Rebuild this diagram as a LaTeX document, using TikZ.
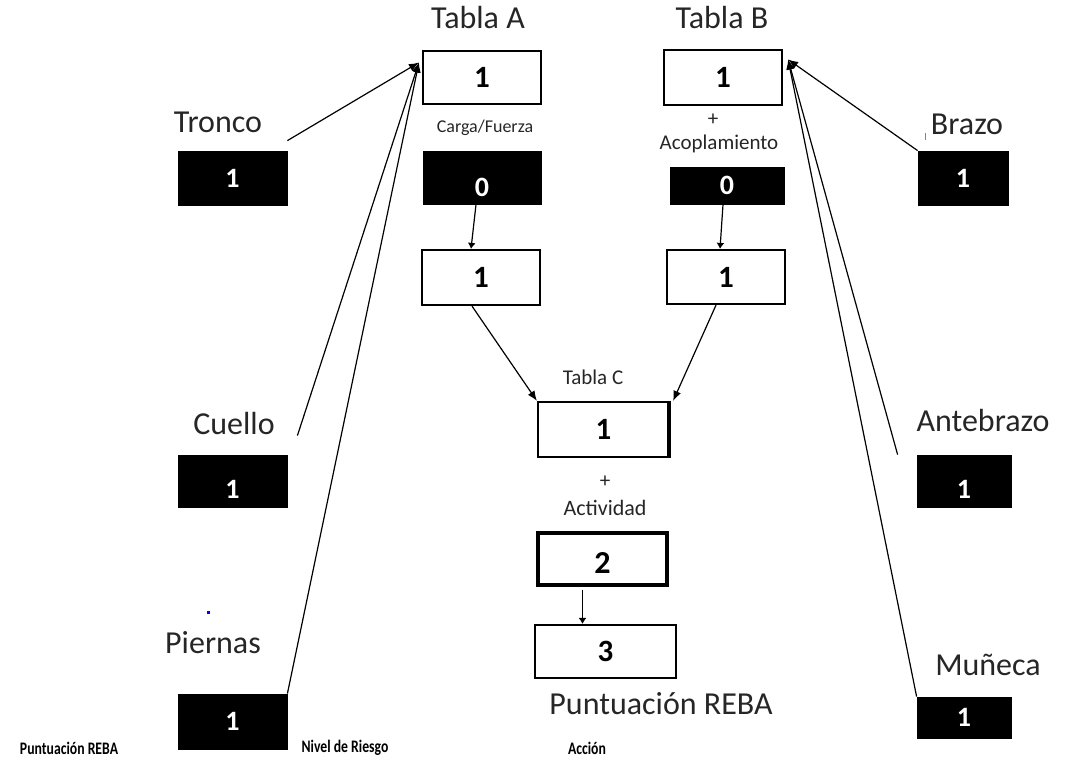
\documentclass[tikz,border=0pt]{standalone}
\usepackage{fontspec}
\setmainfont{Carlito}
\usetikzlibrary{arrows.meta,calc}
\newcommand{\lowered}[2]{\raisebox{-#1}[\height][\depth]{#2}}
\begin{document}
\begin{tikzpicture}[x=0.5pt,y=-0.5pt,
  wbox/.style={draw=black,line width=1.1pt,fill=white,inner sep=0pt,font=\bfseries\fontsize{15.5}{18}\selectfont},
  bbox/.style={draw=black,fill=black,inner sep=0pt,text=white,font=\bfseries\fontsize{14}{17}\selectfont},
  lbl/.style={inner sep=0pt,font=\fontsize{16}{19}\selectfont,text=black!85},
  slbl/.style={inner sep=0pt,font=\fontsize{9}{11}\selectfont,text=black!85},
  blbl/.style={inner sep=0pt,font=\bfseries\fontsize{8.8}{10}\selectfont},
  conn/.style={line width=0.6pt,-{Latex[length=5pt,width=4pt]}},
  sconn/.style={line width=0.6pt,-{Latex[length=3pt,width=4pt]}}]
\useasboundingbox (0,0) rectangle (1068,761);

% --- Tabla A branch ---
\node[lbl] (tAl) at (478,18) {Tabla A};
\node[wbox,minimum width=59pt,minimum height=26.5pt] (ta) at (482,77.5) {1};
\node[slbl] (cfl) at (485,128) {Carga/Fuerza};
\node[bbox,minimum width=59pt,minimum height=26.5pt] (cf) at (482,177.5) {\lowered{5pt}{0}};
\node[wbox,minimum width=59pt,minimum height=27.5pt] (ml) at (481,277.5) {1};

% --- Tabla B branch ---
\node[lbl] (tBl) at (722,18) {Tabla B};
\node[wbox,minimum width=59pt,minimum height=27.5pt] (tb) at (723,77.5) {1};
\node[slbl,font=\fontsize{10.5}{12}\selectfont] (plb) at (713,120) {+};
\node[slbl,font=\fontsize{10.5}{12}\selectfont] (acl) at (719,144) {Acoplamiento};
\node[bbox,minimum width=57pt,minimum height=18.5pt] (ac) at (727,185.5) {0};
\node[wbox,minimum width=59pt,minimum height=27pt] (mr) at (726,277) {1};

% --- Tabla C and final score ---
\node[slbl,font=\fontsize{10.5}{12}\selectfont] (tCl) at (593,377) {Tabla C};
\node[wbox,minimum width=65.5pt,minimum height=27.5pt] (tc) at (603.5,429.5) {1};
\draw[line width=2.2pt] ([xshift=-0.6pt]tc.north east) -- ([xshift=-0.6pt]tc.south east);
\node[slbl,font=\fontsize{10.5}{12}\selectfont] (plc) at (605,482) {+};
\node[slbl,font=\fontsize{11}{13}\selectfont] (acv) at (605,508) {Actividad};
\node[wbox,line width=1.6pt,minimum width=64.5pt,minimum height=26pt,font=\bfseries\fontsize{16}{19}\selectfont] (b2) at (602.5,559) {\lowered{2pt}{2}};
\node[wbox,minimum width=70.5pt,minimum height=26.5pt] (b3) at (605.5,651.5) {3};
\node[lbl] (prl) at (661,704) {Puntuación REBA};

% --- left body segments ---
\node[lbl] (trl) at (218,122) {Tronco};
\node[bbox,minimum width=54.5pt,minimum height=27pt] (tr) at (232.5,178) {1};
\node[lbl] (cul) at (234,423) {Cuello};
\node[bbox,minimum width=54.5pt,minimum height=26pt] (cu) at (232.5,481) {\lowered{4pt}{1}};
\node[lbl] (pil) at (213,643) {Piernas};
\node[bbox,minimum width=54.5pt,minimum height=27.5pt] (pi) at (232.5,721.5) {1};
\fill[blue] (206.5,610.5) rectangle (209.5,613.5);

% --- right body segments ---
\node[lbl] (brl) at (967,124) {Brazo};
\node[bbox,minimum width=45pt,minimum height=27pt] (br) at (963,178) {1};
\fill[violet!60] (924.5,133) rectangle (925.5,140);
\node[lbl] (abl) at (983,420) {Antebrazo};
\node[bbox,minimum width=47pt,minimum height=26pt] (ab) at (964,481) {\lowered{4pt}{1}};
\node[lbl] (mul) at (988,665) {Muñeca};
\node[bbox,minimum width=47pt,minimum height=20.5pt] (mu) at (964,717.5) {1};

% --- bottom legend ---
\node[blbl] (lg1) at (69,748) {\scalebox{0.78}[1]{Puntuación REBA}};
\node[blbl] (lg2) at (345,748) {\scalebox{0.78}[1]{Nivel de Riesgo}};
\node[blbl] (lg3) at (587,748) {\scalebox{0.78}[1]{Acción}};

% --- connectors ---
\coordinate (taIn) at ([yshift=7.5pt,xshift=-1.5pt]ta.west);
\coordinate (tbIn) at ([yshift=9pt,xshift=2.5pt]tb.east);
\draw[conn] ([yshift=5pt]tr.north east) -- (taIn);
\draw[conn] ([xshift=5pt,yshift=9.5pt]cu.north east) -- (taIn);
\draw[conn] (pi.north east) -- (taIn);
\draw[conn] (br.north west) -- (tbIn);
\draw[conn] ([xshift=-9.5pt]ab.north west) -- (tbIn);
\draw[conn] (mu.north west) -- (tbIn);

\draw[sconn] ([xshift=-3pt]cf.south) -- ([xshift=-5pt]ml.north);
\draw[sconn] ([xshift=-2pt]ac.south) -- ([xshift=-3pt]mr.north);
\draw[conn] ([xshift=-4.5pt]ml.south) -- (tc.north west);
\draw[conn] ([xshift=-5pt]mr.south) -- ([xshift=1.5pt]tc.north east);
\draw[sconn] ([xshift=-10pt,yshift=-1.5pt]b2.south) -- ([xshift=-11.5pt]b3.north);
\end{tikzpicture}
\end{document}
